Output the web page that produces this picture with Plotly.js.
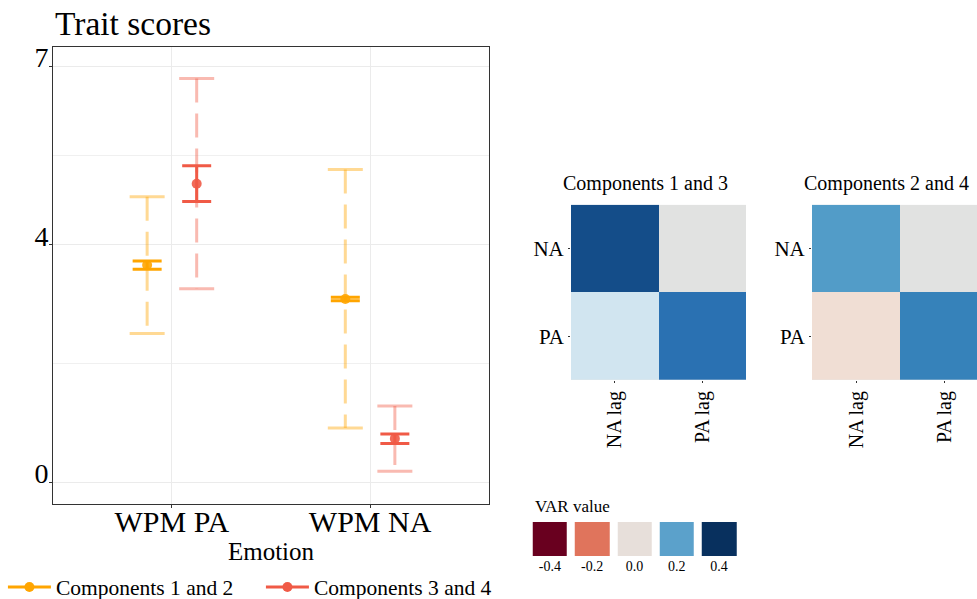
<!DOCTYPE html>
<html>
<head>
<meta charset="utf-8">
<script src="https://cdn.plot.ly/plotly-3.0.1.min.js"></script>
<style>html,body{margin:0;padding:0;background:#fff;}#chart{width:977px;height:599px;}</style>
</head>
<body>
<div id="chart"></div>
<script>
// ---- data: trait scores ----
const categories = ['WPM PA', 'WPM NA'];
const seriesNames = ['Components 1 and 2', 'Components 3 and 4'];
const c12Mean    = [3.66, 3.09];
const c12InnerLo = [3.59, 3.06];
const c12InnerHi = [3.73, 3.12];
const c12OuterLo = [2.51, 0.92];
const c12OuterHi = [4.81, 5.27];
const c34Mean    = [5.03, 0.74];
const c34InnerLo = [4.73, 0.66];
const c34InnerHi = [5.33, 0.82];
const c34OuterLo = [3.26, 0.19];
const c34OuterHi = [6.80, 1.29];
const yTicks = [0, 4, 7];
const yMinor = [2, 5.5];

// ---- data: VAR heatmaps (rows bottom->top) ----
const hmRows = ['PA', 'NA'];
const hmCols = ['NA lag', 'PA lag'];
const var13 = [[0.08, 0.30], [0.357, null]];
const var24 = [[-0.03, 0.27], [0.225, null]];
const legendBreaks = [-0.4, -0.2, 0.0, 0.2, 0.4];
const legendLabels = ['-0.4', '-0.2', '0.0', '0.2', '0.4'];

// ---- styles ----
const FONT = 'Liberation Serif, Times New Roman, serif';
const colors = ['#FFA500', '#F05A46'];
const lightColors = ['rgba(255,165,0,0.42)', 'rgba(240,90,70,0.42)'];
const offsets = [-0.125, 0.125];
const divScale = [
  [0.0, '#67001F'], [0.1, '#B2182B'], [0.2, '#D6604D'], [0.3, '#F4A582'], [0.4, '#FDDBC7'],
  [0.5, '#E8E0DB'], [0.6, '#D1E5F0'], [0.7, '#92C5DE'], [0.8, '#4393C3'], [0.9, '#2166AC'], [1.0, '#053061']
];
const legendScale = [[0, '#69001F'], [0.25, '#E0745C'], [0.5, '#E7DFDA'], [0.75, '#5BA1CB'], [1, '#08305E']];

const series = [
  {mean: c12Mean, ilo: c12InnerLo, ihi: c12InnerHi, olo: c12OuterLo, ohi: c12OuterHi},
  {mean: c34Mean, ilo: c34InnerLo, ihi: c34InnerHi, olo: c34OuterLo, ohi: c34OuterHi}
];

const traces = [];
series.forEach((s, k) => {
  const xs = categories.map((c, i) => i + 1 + offsets[k]);
  const lx = [], ly = [];
  xs.forEach((x, i) => { lx.push(x, x, null); ly.push(s.ohi[i], s.olo[i], null); });
  traces.push({type: 'scatter', mode: 'lines', x: lx, y: ly, xaxis: 'x', yaxis: 'y',
    line: {color: lightColors[k], width: 3, dash: '24px,11px'}, showlegend: false, hoverinfo: 'skip'});
  traces.push({type: 'scatter', mode: 'markers', x: xs.concat(xs), y: s.ohi.concat(s.olo), xaxis: 'x', yaxis: 'y',
    marker: {symbol: 'line-ew', size: 25, line: {color: lightColors[k], width: 3}}, showlegend: false, hoverinfo: 'skip'});
  traces.push({type: 'scatter', mode: 'markers', x: xs, y: s.mean, xaxis: 'x', yaxis: 'y',
    marker: {color: colors[k], size: 10, opacity: 0.9},
    error_y: {type: 'data', symmetric: false,
      array: s.ihi.map((h, i) => h - s.mean[i]), arrayminus: s.ilo.map((l, i) => s.mean[i] - l),
      color: colors[k], thickness: 3, width: 14.5},
    showlegend: false, name: seriesNames[k]});
  traces.push({type: 'scatter', mode: 'lines+markers', x: [null], y: [null], xaxis: 'x', yaxis: 'y',
    name: seriesNames[k], line: {color: colors[k], width: 3}, marker: {color: colors[k], size: 10}, showlegend: true});
});

[[var13, 'x2', 'y2'], [var24, 'x3', 'y3']].forEach(([z, xa, ya]) => {
  traces.push({type: 'heatmap', x: hmCols, y: hmRows, z: hmRows.map(() => hmCols.map(() => 1)),
    xaxis: xa, yaxis: ya, colorscale: [[0, '#E1E2E1'], [1, '#E1E2E1']], showscale: false, hoverinfo: 'skip'});
  traces.push({type: 'heatmap', x: hmCols, y: hmRows, z: z, xaxis: xa, yaxis: ya,
    colorscale: divScale, zmin: -0.4, zmax: 0.4, showscale: false});
});
traces.push({type: 'heatmap', x: legendLabels, y: ['k'], z: [legendBreaks], xaxis: 'x4', yaxis: 'y4',
  colorscale: legendScale, zmin: -0.4, zmax: 0.4, showscale: false, xgap: 8});

const H = 599, W = 977;
const px = v => v / W, py = v => (H - v) / H;

const hmX = (dom, range) => ({domain: dom, showgrid: false, zeroline: false, ticks: 'outside', ticklen: 2,
  tickcolor: '#333', tickangle: -90, tickfont: {family: FONT, size: 20, color: '#000'},
  range: range, showline: false});
const hmY = (anchor) => ({domain: [py(380), py(204.7)], anchor: anchor, showgrid: false, zeroline: false,
  ticks: 'outside', ticklen: 2, tickcolor: '#333', categoryorder: 'array', categoryarray: hmRows,
  tickfont: {family: FONT, size: 21, color: '#000'}, range: [-0.5, 1.5]});

const layout = {
  width: W, height: H,
  margin: {l: 0, r: 0, t: 0, b: 0, autoexpand: false},
  paper_bgcolor: '#fff', plot_bgcolor: 'rgba(0,0,0,0)',
  font: {family: FONT, color: '#000'},
  title: {text: 'Trait scores', x: px(55), xanchor: 'left', xref: 'paper', y: py(23), yanchor: 'middle',
    font: {family: FONT, size: 33.5, color: '#000'}},
  xaxis: {domain: [px(53), px(489)], range: [0.4, 2.6], tickvals: [1, 2], ticktext: categories,
    showgrid: true, gridcolor: '#EBEBEB', gridwidth: 1, zeroline: false,
    ticks: 'outside', ticklen: 3, tickcolor: '#333', showline: true, mirror: true, linecolor: '#333', linewidth: 1,
    ticklabelstandoff: -12,
    tickfont: {family: FONT, size: 30, color: '#000'},
    title: {text: 'Emotion', font: {family: FONT, size: 25, color: '#000'}, standoff: 0}, anchor: 'y'},
  yaxis: {domain: [py(504), py(47)], range: [-0.36, 7.33], tickvals: yTicks, ticktext: yTicks.map(String),
    showgrid: true, gridcolor: '#EBEBEB', gridwidth: 1, zeroline: false,
    minor: {tickvals: yMinor, showgrid: true, gridcolor: '#F0F0F0', gridwidth: 1, ticks: ''},
    ticks: 'outside', ticklen: 3, tickcolor: '#333', showline: true, mirror: true, linecolor: '#333', linewidth: 1,
    ticklabelstandoff: -5, ticklabelshift: -9,
    tickfont: {family: FONT, size: 28, color: '#000'}, anchor: 'x'},
  xaxis2: Object.assign(hmX([px(571), px(746)], [-0.5, 1.5]), {anchor: 'y2'}),
  yaxis2: hmY('x2'),
  xaxis3: Object.assign(hmX([px(812), 1], [-0.5, 1.375]), {anchor: 'y3'}),
  yaxis3: hmY('x3'),
  xaxis4: {domain: [px(528.7), px(740.2)], anchor: 'y4', type: 'category', showgrid: false, zeroline: false, ticks: '',
    tickfont: {family: FONT, size: 14, color: '#000'}},
  yaxis4: {domain: [py(556), py(522)], anchor: 'x4', type: 'category', showticklabels: false, showgrid: false, zeroline: false, ticks: ''},
  showlegend: true,
  legend: {orientation: 'h', x: 0.003, xanchor: 'left', y: py(587), yanchor: 'middle',
    font: {family: FONT, size: 21.5, color: '#000'}, entrywidth: 200, entrywidthmode: 'pixels',
    bgcolor: 'rgba(0,0,0,0)', itemwidth: 43},
  annotations: [
    {text: 'Components 1 and 3', xref: 'paper', yref: 'paper', x: px(645), y: py(183), xanchor: 'center', yanchor: 'middle',
      showarrow: false, font: {family: FONT, size: 20, color: '#000'}},
    {text: 'Components 2 and 4', xref: 'paper', yref: 'paper', x: px(886), y: py(183), xanchor: 'center', yanchor: 'middle',
      showarrow: false, font: {family: FONT, size: 20, color: '#000'}},
    {text: 'VAR value', xref: 'paper', yref: 'paper', x: px(533), y: py(506), xanchor: 'left', yanchor: 'middle',
      showarrow: false, font: {family: FONT, size: 17, color: '#000'}}
  ]
};

Plotly.newPlot('chart', traces, layout, {displayModeBar: false, staticPlot: true});
</script>
</body>
</html>
